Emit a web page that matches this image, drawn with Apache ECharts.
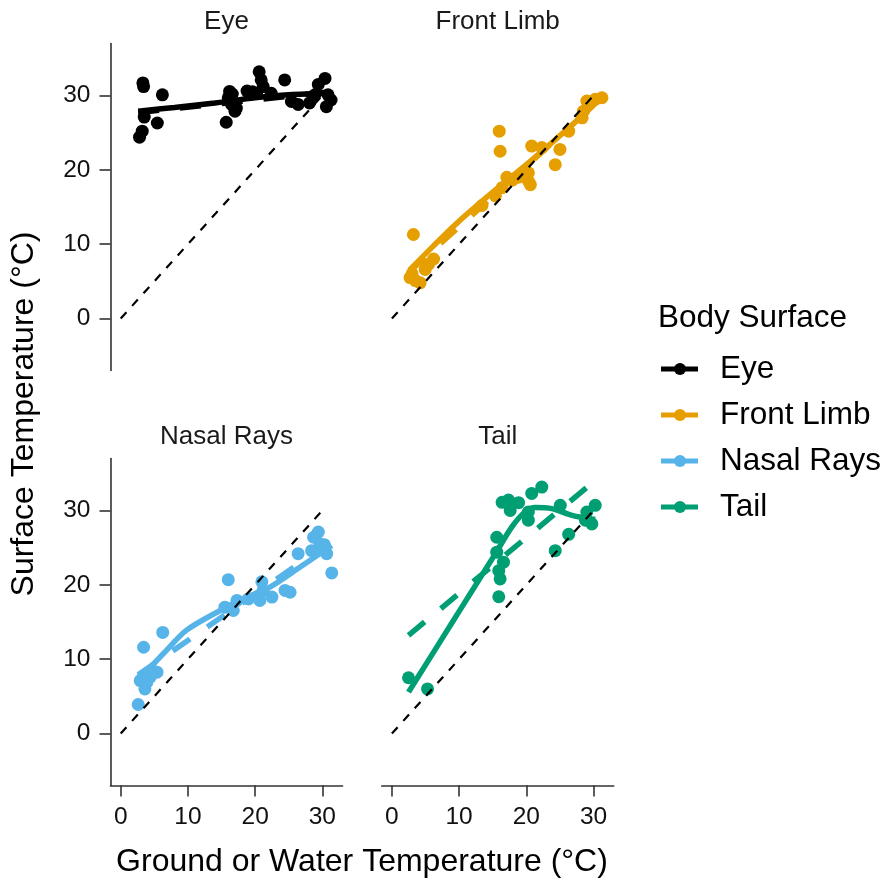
<!DOCTYPE html>
<html>
<head>
<meta charset="utf-8">
<script src="https://cdn.jsdelivr.net/npm/echarts@6/dist/echarts.min.js"></script>
<style>html,body{margin:0;padding:0;background:#fff;}#chart{width:884px;height:883px;}</style>
</head>
<body>
<div id="chart"></div>
<script>
// ---------- data ----------
const panels = ['Eye', 'Front Limb', 'Nasal Rays', 'Tail'];
const colors = ['#000000', '#E69F00', '#56B4E9', '#009E73'];
const xTicks = [0, 10, 20, 30];
const yTicks = [0, 10, 20, 30];
const identityLine = [[0, 0], [30, 30]];

const eyePoints = [[3.3,31.7],[3.4,31.2],[6.2,30.1],[3.5,27.1],[5.45,26.3],[3.2,25.2],[2.8,24.4],
  [16.2,30.55],[16.0,29.7],[16.5,28.8],[17.0,27.9],[15.7,26.4],[17.2,28.3],[16.6,30.2],
  [18.8,30.6],[20.6,33.2],[20.9,32.1],[21.2,31.2],[20.2,30.3],[22.4,30.3],[24.4,32.1],[25.4,29.2],
  [26.4,28.8],[29.4,31.5],[30.4,32.3],[28.9,30.1],[30.85,30.1],[31.3,29.4],[30.6,28.5],[28.1,29.0],[19.6,30.5]];
const limbPoints = [[15.97,25.2],[16.1,22.5],[3.2,11.3],[2.7,5.5],[3.5,5.1],[4.2,4.8],[5.45,7.3],[6.2,8.0],
  [4.95,6.6],[3.0,6.0],[17.1,19.0],[15.4,16.5],[16.4,17.6],[18.8,19.0],[20.3,18.5],[20.6,18.0],[20.3,19.6],
  [20.8,23.2],[22.3,23.0],[25.0,22.75],[24.3,20.7],[26.3,25.2],[28.3,27.0],[28.5,27.9],[29.0,29.25],
  [30.25,29.5],[31.25,29.7],[17.9,18.6],[19.5,19.3],[13.4,15.2]];
const nasalPoints = [[2.6,3.9],[3.4,11.6],[6.25,13.6],[2.9,7.1],[3.9,6.9],[3.6,6.0],[5.4,8.25],[4.4,7.6],
  [16.0,20.7],[15.5,17.0],[16.75,16.55],[17.3,17.9],[19.0,18.1],[20.7,17.9],[21.0,20.4],[22.5,18.35],
  [21.2,19.25],[24.45,19.25],[25.2,19.0],[26.4,24.2],[29.4,27.1],[28.7,26.4],[28.4,24.6],[29.65,25.5],
  [30.65,24.2],[31.4,21.6],[30.3,25.4]];
const tailPoints = [[2.47,7.5],[5.3,6.0],[15.9,18.4],[16.1,20.8],[15.6,26.4],[15.6,24.4],[16.6,23.05],
  [15.9,21.9],[16.4,31.1],[17.35,31.4],[17.6,30.0],[18.85,31.05],[20.8,32.3],[22.3,33.15],[20.3,29.8],
  [20.3,28.7],[25.05,30.7],[26.3,26.8],[24.3,24.6],[29.0,29.8],[30.25,30.7],[29.75,28.2],[28.8,28.7]];

const eyeSmooth = [[2.6,27.9],[8,28.4],[14,29.0],[20,29.7],[25,30.1],[31.3,30.3]];
const eyeLinear = [[2.6,27.7],[31.3,30.5]];
const limbSmooth = [[2.6,6.5],[6,9.6],[10,13.1],[15,17.0],[20,20.7],[25,24.6],[28,27.0],[31.3,29.8]];
const limbLinear = [[2.6,6.3],[31.3,29.7]];
const nasalSmooth = [[2.6,7.6],[4.5,9.0],[6.5,10.9],[9.8,13.9],[14.8,16.55],[18.75,18.35],[22.2,19.7],[26.7,22.4],[31.4,25.3]];
const nasalLinear = [[2.6,7.9],[31.4,25.9]];
const tailSmooth = [[2.47,5.56],[5.2,9.5],[7.9,13.4],[10.4,17.0],[12.9,20.6],[15.4,24.2],[17.85,27.8],[19.8,29.8],[21.3,30.4],[23.8,30.25],[26.8,29.35],[30.25,28.8]];
const tailLinear = [[2.47,13.2],[30.25,34.05]];

const pointSets = [eyePoints, limbPoints, nasalPoints, tailPoints];
const smoothSets = [eyeSmooth, limbSmooth, nasalSmooth, tailSmooth];
const linearSets = [eyeLinear, limbLinear, nasalLinear, tailLinear];

// ---------- layout ----------
const FONT = '"Liberation Sans", Arial, Helvetica, sans-serif';
const gridPos = [
  {left: 110.5, top: 43.5}, {left: 381.7, top: 43.5},
  {left: 110.5, top: 458.5}, {left: 381.7, top: 458.5}
];
const GW = 232, GH = 327;
const axisCol = '#333333';

const grids = gridPos.map(p => ({left: p.left, top: p.top, width: GW, height: GH, containLabel: false}));

const xAxes = gridPos.map((p, i) => {
  const show = i >= 2;
  return {
    type: 'value', gridIndex: i, min: -1.52, max: 33.0,
    splitLine: {show: false},
    axisLine: {show: show, onZero: false, lineStyle: {color: axisCol, width: 1.6}},
    axisTick: {show: show, length: 11, customValues: xTicks, lineStyle: {color: axisCol, width: 1.6}},
    axisLabel: {show: show, customValues: xTicks, margin: 19, fontSize: 24.5, color: '#111', fontFamily: FONT}
  };
});
const yAxes = gridPos.map((p, i) => {
  const show = (i % 2) === 0;
  return {
    type: 'value', gridIndex: i, min: -7, max: 37,
    splitLine: {show: false},
    axisLine: {show: show, onZero: false, lineStyle: {color: axisCol, width: 1.6}},
    axisTick: {show: show, length: 11, customValues: yTicks, lineStyle: {color: axisCol, width: 1.6}},
    axisLabel: {show: show, customValues: yTicks, margin: 20, fontSize: 24.5, color: '#111', fontFamily: FONT}
  };
});

const series = [];
panels.forEach((name, i) => {
  series.push({
    type: 'scatter', xAxisIndex: i, yAxisIndex: i, data: pointSets[i],
    symbol: 'circle', symbolSize: 13, itemStyle: {color: colors[i], opacity: 1}, z: 2, silent: true
  });
  series.push({
    type: 'line', xAxisIndex: i, yAxisIndex: i, data: linearSets[i], symbol: 'none',
    lineStyle: {color: colors[i], width: 5.5, type: [21, 21], cap: 'butt'}, z: 3, silent: true
  });
  series.push({
    type: 'line', xAxisIndex: i, yAxisIndex: i, data: smoothSets[i], symbol: 'none',
    smooth: 0.3,
    lineStyle: {color: colors[i], width: 5.5, cap: 'butt'}, z: 4, silent: true
  });
  series.push({
    type: 'line', xAxisIndex: i, yAxisIndex: i, data: identityLine, symbol: 'none',
    lineStyle: {color: '#000', width: 2.2, type: [8.5, 8.5], cap: 'butt'}, z: 5, silent: true
  });
});

// strip titles, axis titles, legend
const graphics = [];
panels.forEach((name, i) => {
  graphics.push({
    type: 'text',
    x: gridPos[i].left + GW / 2, y: gridPos[i].top - 22,
    style: {text: name, font: '26px ' + FONT, fill: '#1a1a1a', textAlign: 'center', textVerticalAlign: 'middle'}
  });
});
graphics.push({
  type: 'text', x: 362, y: 862,
  style: {text: 'Ground or Water Temperature (°C)', font: '32px ' + FONT, fill: '#000', textAlign: 'center', textVerticalAlign: 'middle'}
});
graphics.push({
  type: 'text', x: 24, y: 414, rotation: Math.PI / 2,
  style: {text: 'Surface Temperature (°C)', font: '32px ' + FONT, fill: '#000', textAlign: 'center', textVerticalAlign: 'middle'}
});
graphics.push({
  type: 'text', x: 658, y: 318,
  style: {text: 'Body Surface', font: '31.5px ' + FONT, fill: '#000', textAlign: 'left', textVerticalAlign: 'middle'}
});
const legendY = [369, 415, 461, 507];
panels.forEach((name, i) => {
  graphics.push({
    type: 'line', shape: {x1: 661, y1: legendY[i], x2: 698, y2: legendY[i]},
    style: {stroke: colors[i], lineWidth: 5}
  });
  graphics.push({
    type: 'circle', shape: {cx: 680, cy: legendY[i], r: 6}, style: {fill: colors[i]}
  });
  graphics.push({
    type: 'text', x: 720, y: legendY[i],
    style: {text: name, font: '31.5px ' + FONT, fill: '#000', textAlign: 'left', textVerticalAlign: 'middle'}
  });
});

const chart = echarts.init(document.getElementById('chart'), null, {renderer: 'canvas'});
chart.setOption({
  animation: false,
  backgroundColor: '#ffffff',
  grid: grids,
  xAxis: xAxes,
  yAxis: yAxes,
  series: series,
  graphic: graphics
});
</script>
</body>
</html>
